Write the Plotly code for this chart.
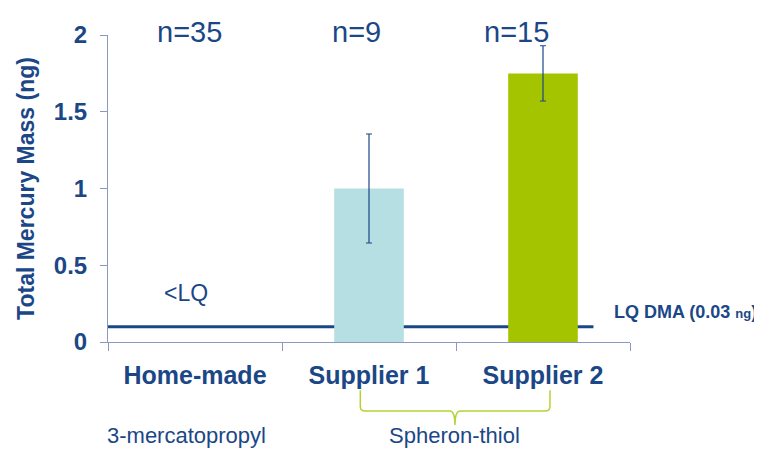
import plotly.graph_objects as go

categories = ["Home-made", "Supplier 1", "Supplier 2"]
values = [None, 1.0, 1.75]          # Home-made is below LQ (no value)
errors = [None, 0.355, 0.18]
bar_colors = ["rgba(0,0,0,0)", "#b5dfe3", "#a5c400"]
n_labels = ["n=35", "n=9", "n=15"]
lq_level = 0.1
group_labels = ["3-mercatopropyl", "Spheron-thiol"]

BLUE = "#1b4787"
AXIS = "#8a99bf"
FONT = "Arial, Liberation Sans, sans-serif"

fig = go.Figure()
fig.add_trace(go.Bar(
    x=[0, 1, 2], y=values, width=0.4,
    marker=dict(color=bar_colors, line=dict(width=0)),
    error_y=dict(type="data", array=errors, color=BLUE, thickness=1.2, width=3),
    showlegend=False,
))

# LQ line
fig.add_shape(type="line", xref="x", yref="y", x0=-0.5, x1=2.29, y0=lq_level, y1=lq_level,
              line=dict(color=BLUE, width=3), layer="below")

# n labels
n_x = [-0.03, 0.93, 1.85]
for xx, t in zip(n_x, n_labels):
    fig.add_annotation(x=xx, y=1.01, xref="x", yref="paper", text=t, showarrow=False,
                       font=dict(size=29, color=BLUE, family=FONT), yanchor="middle")

fig.add_annotation(x=-0.05, y=0.32, xref="x", yref="y", text="&lt;LQ", showarrow=False,
                   font=dict(size=23, color=BLUE, family=FONT))

fig.add_annotation(x=1.247, y=0.058, xref="paper", yref="paper",
                   text="<b>LQ DMA (0.03 <span style='font-size:13px'>ng</span>)</b>",
                   showarrow=False, xanchor="right",
                   font=dict(size=18, color=BLUE, family=FONT))

# group labels
fig.add_annotation(x=-0.05, y=-0.352, xref="x", yref="paper", text=group_labels[0], showarrow=False,
                   font=dict(size=22, color=BLUE, family=FONT))
fig.add_annotation(x=1.49, y=-0.352, xref="x", yref="paper", text=group_labels[1], showarrow=False,
                   font=dict(size=22, color=BLUE, family=FONT))

# brace
x0, x1, xc = 0.95, 2.04, 1.494
yt, ym, yb = -0.157, -0.225, -0.27
rx, ry = 0.03, 0.015
path = (f"M {x0},{yt} L {x0},{ym+ry} Q {x0},{ym} {x0+rx},{ym} "
        f"L {xc-rx},{ym} Q {xc},{ym} {xc},{yb} Q {xc},{ym} {xc+rx},{ym} "
        f"L {x1-rx},{ym} Q {x1},{ym} {x1},{ym+ry} L {x1},{yt}")
fig.add_shape(type="path", xref="x", yref="paper", path=path,
              line=dict(color="#b3d335", width=1.5))

fig.update_layout(
    width=762, height=449,
    margin=dict(l=100, r=140, t=27, b=115),
    paper_bgcolor="white", plot_bgcolor="white",
    font=dict(family=FONT, color=BLUE),
    bargap=0.6,
)
fig.update_xaxes(
    range=[-0.5, 2.5], tickmode="array", tickvals=[0, 1, 2],
    ticktext=[f"<b>{c}</b>" for c in categories],
    showline=True, linecolor=AXIS, linewidth=1,
    ticks="", showgrid=False, zeroline=False,
    tickfont=dict(size=25, color=BLUE, family=FONT),
    ticklabelstandoff=11,
    minor=dict(tickmode="array", tickvals=[-0.5, 0.5, 1.5, 2.5], ticks="outside",
               ticklen=8, tickcolor=AXIS, showgrid=False),
)
fig.update_yaxes(
    range=[0, 2], tickvals=[0, 0.5, 1, 1.5, 2], ticktext=["<b>0</b>", "<b>0.5</b>", "<b>1</b>", "<b>1.5</b>", "<b>2</b>"],
    showline=True, linecolor=AXIS, linewidth=1,
    ticks="outside", ticklen=7, tickcolor=AXIS,
    showgrid=False, zeroline=False,
    tickfont=dict(size=24, color=BLUE, family=FONT),
    ticklabelstandoff=8,
    title=dict(text="<b>Total Mercury Mass (ng)</b>", font=dict(size=23, color=BLUE, family=FONT), standoff=12),
)

fig.write_html("out.html")
